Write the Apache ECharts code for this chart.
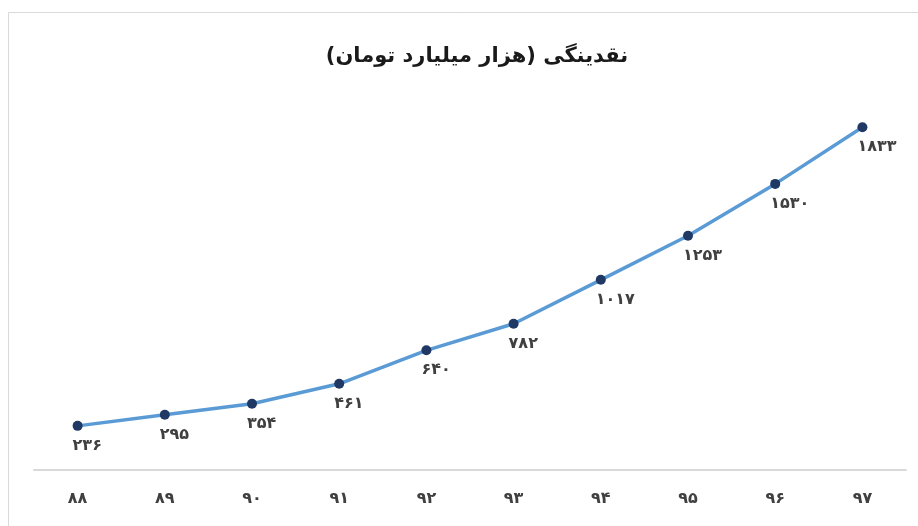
<!DOCTYPE html>
<html>
<head>
<meta charset="utf-8">
<style>
  html, body { margin: 0; padding: 0; background: #ffffff; }
  #chart { width: 918px; height: 526px; }
</style>
<script src="https://cdn.jsdelivr.net/npm/echarts@6/dist/echarts.min.js"></script>
</head>
<body>
<div id="chart"></div>
<script>
// Years (Persian calendar) and liquidity in thousand billion tomans
const years = ['۸۸', '۸۹', '۹۰', '۹۱', '۹۲', '۹۳', '۹۴', '۹۵', '۹۶', '۹۷'];
const liquidity = [236, 295, 354, 461, 640, 782, 1017, 1253, 1530, 1833];
const titleText = 'نقدینگی (هزار میلیارد تومان)';

const faDigits = '۰۱۲۳۴۵۶۷۸۹';
function toPersian(n) {
  return String(n).replace(/[0-9]/g, d => faDigits[+d]);
}

const chart = echarts.init(document.getElementById('chart'), null, { renderer: 'canvas' });

chart.setOption({
  backgroundColor: '#ffffff',
  animation: false,
  graphic: [{
    type: 'rect',
    shape: { x: 8.5, y: 12.5, width: 1000, height: 1000 },
    style: { fill: 'none', stroke: '#d9d9d9', lineWidth: 1 },
    silent: true,
    z: -1
  }],
  title: {
    text: titleText,
    left: 472,
    textAlign: 'center',
    top: 41,
    textStyle: {
      fontFamily: 'DejaVu Sans',
      fontSize: 21,
      fontWeight: 'bold',
      color: '#1a1a1a'
    }
  },
  grid: { left: 34, right: 12, top: 96, bottom: 56 },
  xAxis: {
    type: 'category',
    data: years,
    boundaryGap: true,
    axisLine: { show: true, lineStyle: { color: '#d9d9d9', width: 2 } },
    axisTick: { show: false },
    axisLabel: {
      margin: 21,
      fontFamily: 'DejaVu Sans',
      fontSize: 16,
      fontWeight: 'bold',
      color: '#404040'
    },
    splitLine: { show: false }
  },
  yAxis: {
    type: 'value',
    min: 0,
    max: 2000,
    show: false,
    splitLine: { show: false }
  },
  series: [{
    type: 'line',
    data: liquidity,
    smooth: false,
    symbol: 'circle',
    symbolSize: 10,
    itemStyle: { color: '#203864' },
    lineStyle: { color: '#5b9bd5', width: 3.5 },
    label: {
      show: true,
      position: 'bottom',
      distance: 5,
      align: 'left',
      offset: [-5, 2],
      formatter: p => toPersian(p.value),
      fontFamily: 'DejaVu Sans',
      fontSize: 16,
      fontWeight: 'bold',
      color: '#404040'
    }
  }]
});
</script>
</body>
</html>
